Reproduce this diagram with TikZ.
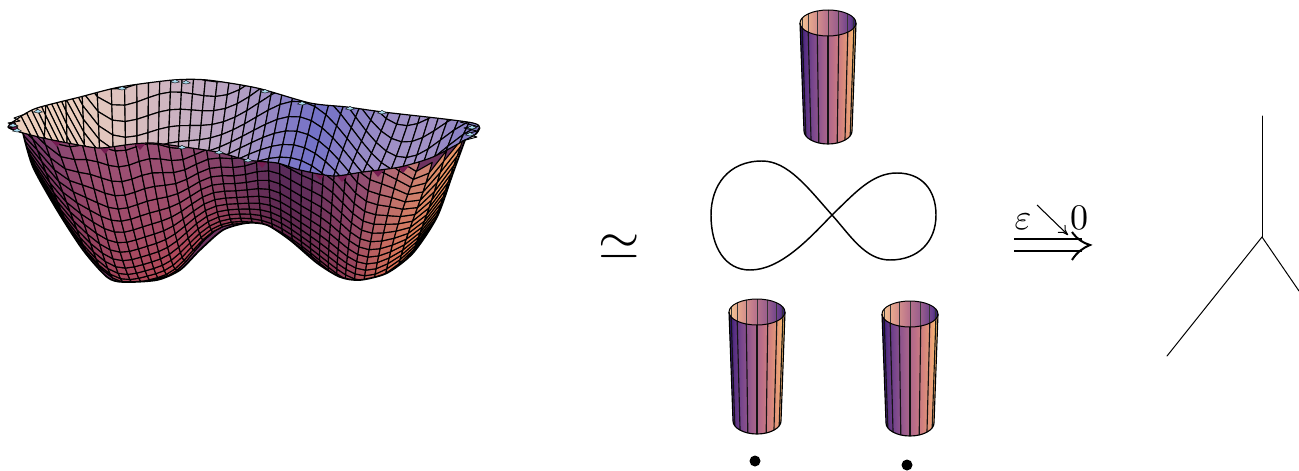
\documentclass[tikz,border=0pt]{standalone}
\usetikzlibrary{arrows.meta}
\definecolor{fa}{RGB}{35,18,105}\definecolor{fb}{RGB}{85,45,130}\definecolor{fc}{RGB}{120,70,140}
\definecolor{fd}{RGB}{160,95,140}\definecolor{fe}{RGB}{190,112,135}\definecolor{ff}{RGB}{212,132,125}
\definecolor{fg}{RGB}{235,160,120}\definecolor{fh}{RGB}{250,190,110}\definecolor{fi}{RGB}{205,170,120}
\definecolor{ia}{RGB}{245,200,150}\definecolor{ib}{RGB}{225,160,140}\definecolor{ic}{RGB}{190,120,140}
\definecolor{id}{RGB}{150,92,140}\definecolor{ie}{RGB}{100,60,140}\definecolor{ig}{RGB}{30,20,90}
\definecolor{rimcyan}{RGB}{165,215,235}\definecolor{rimred}{RGB}{115,28,80}\definecolor{wallgap}{RGB}{110,50,95}
\pgfdeclarehorizontalshading{cylfront}{100bp}{color(0bp)=(fa);color(25bp)=(fa);color(29bp)=(fb);color(36bp)=(fc);color(46bp)=(fd);color(55bp)=(fe);color(62bp)=(ff);color(69bp)=(fg);color(73bp)=(fh);color(75bp)=(fi);color(100bp)=(fi)}
\pgfdeclarehorizontalshading{cylback}{100bp}{color(0bp)=(ia);color(25bp)=(ia);color(35bp)=(ib);color(47bp)=(ic);color(60bp)=(id);color(70bp)=(ie);color(75bp)=(ig);color(100bp)=(ig)}
\newcommand\halfdown[4]{({#1-#3},#2) .. controls ({#1-#3},{#2+.55*#4}) and ({#1-.55*#3},{#2+#4}) .. (#1,{#2+#4}) .. controls ({#1+.55*#3},{#2+#4}) and ({#1+#3},{#2+.55*#4}) .. ({#1+#3},#2)}
\newcommand\halfup[4]{({#1+#3},#2) .. controls ({#1+#3},{#2-.55*#4}) and ({#1+.55*#3},{#2-#4}) .. (#1,{#2-#4}) .. controls ({#1-.55*#3},{#2-#4}) and ({#1-#3},{#2-.55*#4}) .. ({#1-#3},#2)}
\newcommand\cylpic[6]{%
  \shade[shading=cylback] \halfup{#1}{#2}{#3}{13} -- \halfdown{#1}{#2}{#3}{13} -- cycle;
  \foreach \k in {1,...,7}{
    \pgfmathsetmacro\xa{#1-#3*cos(\k*22.5)}
    \pgfmathsetmacro\dy{13*sin(\k*22.5)}
    \draw[line width=.75pt,black!80] (\xa,{#2-\dy}) -- (\xa,{#2+\dy});
  }
  \shade[shading=cylfront] \halfdown{#1}{#2}{#3}{13} -- ({#4+#6},#5) .. controls ({#4+#6},{#5+7}) and ({#4+.55*#6},{#5+13}) .. (#4,{#5+13}) .. controls ({#4-.55*#6},{#5+13}) and ({#4-#6},{#5+7}) .. ({#4-#6},#5) -- cycle;
  \foreach \k in {1,...,7}{
    \pgfmathsetmacro\xa{#1-#3*cos(\k*22.5)}
    \pgfmathsetmacro\ya{#2+13*sin(\k*22.5)}
    \pgfmathsetmacro\xb{#4-#6*cos(\k*22.5)}
    \pgfmathsetmacro\yb{#5+13*sin(\k*22.5)}
    \draw[line width=.85pt,black!92] (\xa,\ya) -- (\xb,\yb);
  }
  \draw[line width=.75pt] \halfup{#1}{#2}{#3}{13} -- \halfdown{#1}{#2}{#3}{13} -- cycle;
  \draw[line width=.85pt] ({#1-#3},#2) -- ({#4-#6},#5) .. controls ({#4-#6},{#5+7}) and ({#4-.55*#6},{#5+13}) .. (#4,{#5+13}) .. controls ({#4+.55*#6},{#5+13}) and ({#4+#6},{#5+7}) .. ({#4+#6},#5) -- ({#1+#3},#2);
}
\newcommand\rimtri[3]{\fill[#3,draw=black,line width=.3pt] ({#1-4.5},{#2+1}) -- (#1,{#2-1.6}) -- ({#1+4.5},{#2+1}) -- (#1,{#2+2}) -- cycle;}
\newcommand\rimdrop[2]{\fill[rimred] ({#1-6},{#2-1}) -- ({#1+6},{#2-1}) -- (#1,{#2+6}) -- cycle;}
\def\frontrim{(23,133) (43,138) (73,144) (100,148) (133,144) (153,143) (177,146) (217,152) (247,160) (277,163) (300,170) (333,176) (363,172) (400,167) (433,157) (465,140)}
\def\lowerrim{(465,140) (453,173) (437,217) (413,253) (387,273) (360,280) (340,277) (317,263) (290,240) (267,225) (247,223) (223,230) (200,250) (180,270) (157,280) (123,282) (107,277) (83,250) (57,210) (33,167) (23,133)}
\def\backrim{(23,133) (8,127) (20,117) (37,108) (80,97) (120,87) (173,80) (207,80) (257,88) (310,103) (347,107) (383,112) (473,123) (477,133) (465,140)}
\begin{document}
\begin{tikzpicture}[x=0.75pt,y=-0.75pt,lineedge/.style={line width=.75pt,line cap=round},meshquad/.style={draw=black,line width=.85pt,line join=round}]
\useasboundingbox (0,0) rectangle (1299,471);
\foreach \j in {0,...,38}{
  \pgfmathsetmacro\ja{abs(\j-19)}
  \pgfmathsetmacro\dd{7*\ja+.286*\ja*\ja}
  \pgfmathsetmacro\va{(-1+sqrt(1+.6444*\dd))*.10345}
  \pgfmathsetmacro\vv{\j<19?-\va:\va}
  \pgfmathsetmacro\zv{145*\vv*\vv}
  \pgfmathsetmacro\bv{\j<19?12*\vv:35*\vv}
  \pgfmathsetmacro\lf{max(0,1-\va/1.1)}
  \expandafter\xdef\csname VV\j\endcsname{\vv}
  \expandafter\xdef\csname ZV\j\endcsname{\zv}
  \expandafter\xdef\csname BV\j\endcsname{\bv}
  \expandafter\xdef\csname LF\j\endcsname{\lf}
}
\foreach \i in {0,...,44}{
  \pgfmathsetmacro\uu{-1.76+.08*\i}
  \pgfmathsetmacro\zu{60*(\uu*\uu-1)^2}
  \pgfmathsetmacro\fx{240*\uu*(\uu*\uu-1)}
  \pgfmathsetmacro\qq{\fx/(abs(\fx)+80)}
  \pgfmathsetmacro\dk{1-.42*exp(-(\uu-.3)^2/.2)}
  \pgfmathsetmacro\amt{\qq>0?\qq*\qq:0}
  \pgfmathsetmacro\pmt{\qq<0?\qq*\qq*\qq*\qq:0}
  \pgfmathsetmacro\amo{min(1,max(0,(\uu-.85)/.55))}
  \pgfmathsetmacro\ami{\uu>.85?0:\amt}
  \pgfmathsetmacro\rc{(.60+.34*\amo-.36*\pmt)*\dk}
  \pgfmathsetmacro\gc{(.33+.30*\amo-.22*\pmt)*\dk}
  \pgfmathsetmacro\bc{(.50-.08*\amo-.10*\pmt)*(.6+.4*\dk)}
  \pgfmathsetmacro\tb{min(1,max(0,(\uu+1.5)/1.4))}
  \pgfmathsetmacro\bmt{min(.85,.75*exp(-(\uu-.2)^2/.09)+(\uu>1?.9*\amt:0)+(\uu<.2?0:.12))}
  \pgfmathsetmacro\rb{(.93-.27*\tb)*(1-\bmt)+.42*\bmt}
  \pgfmathsetmacro\gb{(.81-.22*\tb)*(1-\bmt)+.42*\bmt}
  \pgfmathsetmacro\bb{(.74+.03*\tb)*(1-\bmt)+.78*\bmt}
  \pgfmathsetmacro\dlt{3+8*exp(-(\uu-1.3)^2/.15)+18*exp(-(\uu+.55)^2/.06)}
  \expandafter\xdef\csname ZU\i\endcsname{\zu}
  \expandafter\xdef\csname AM\i\endcsname{\ami}
  \expandafter\xdef\csname RC\i\endcsname{\rc}
  \expandafter\xdef\csname GC\i\endcsname{\gc}
  \expandafter\xdef\csname BC\i\endcsname{\bc}
  \expandafter\xdef\csname RB\i\endcsname{\rb}
  \expandafter\xdef\csname GB\i\endcsname{\gb}
  \expandafter\xdef\csname BB\i\endcsname{\bb}
  \foreach \j in {0,...,38}{
    \pgfmathsetmacro\vv{\csname VV\j\endcsname}
    \pgfmathsetmacro\zz{\zu+\csname ZV\j\endcsname}
    \pgfmathsetmacro\pp{1+.115*\zz/60}
    \pgfmathsetmacro\sx{245+(115*\uu+\csname BV\j\endcsname)*\pp}
    \pgfmathsetmacro\rip{\vv<0?\vv*\vv*(24*cos(1.565*(\sx-90))+4*cos(6*(\sx-90))):20*\vv*\vv*cos(2.4*(\sx-160))}
    \pgfmathsetmacro\sy{279-\zz-30*\vv+.1*\uu*\zz+\dlt*\csname LF\j\endcsname-\rip}
    \coordinate (p\i-\j) at (\sx,\sy);
  }
}
% back wall
\begin{scope}
  \clip plot[smooth,tension=.45] coordinates {\lowerrim} -- plot[smooth,tension=.45] coordinates {\backrim} -- cycle;
  \fill[rimred] (0,60) rectangle (490,300);
  \foreach \j [evaluate=\j as \jn using int(\j+1)] in {37,36,...,19}{
    \foreach \i [evaluate=\i as \in using int(\i+1)] in {0,...,43}{
      \dimen0=\csname ZU\i\endcsname pt\relax
      \advance\dimen0 by \csname ZV\j\endcsname pt\relax
      \ifdim\dimen0<205pt
        \definecolor{qc}{rgb}{\csname RB\i\endcsname,\csname GB\i\endcsname,\csname BB\i\endcsname}
        \filldraw[meshquad,fill=qc] (p\i-\j) -- (p\in-\j) -- (p\in-\jn) -- (p\i-\jn) -- cycle;
      \fi
    }
  }
\end{scope}
% front wall
\begin{scope}
  \clip plot[smooth,tension=.45] coordinates {\lowerrim} -- plot[smooth,tension=.45] coordinates {\backrim} -- cycle;
  \clip plot[smooth,tension=.45] coordinates {\frontrim} -- (490,300) -- (0,300) -- cycle;
  \fill[wallgap] (0,60) rectangle (490,300);
  \foreach \j [evaluate=\j as \jn using int(\j+1)] in {23,22,...,0}{
    \pgfmathsetmacro\ww{min(1,\j/19)}
    \foreach \i [evaluate=\i as \in using int(\i+1)] in {0,...,43}{
      \dimen0=\csname ZU\i\endcsname pt\relax
      \advance\dimen0 by \csname ZV\j\endcsname pt\relax
      \ifdim\dimen0<205pt
        \pgfmathsetmacro\wm{\csname AM\i\endcsname*\ww*\ww*\ww}
        \pgfmathsetmacro\rq{min(1,\csname RC\i\endcsname+.08*\ww*\ww+.32*\wm)}
        \pgfmathsetmacro\gq{\csname GC\i\endcsname*(.8+.2*(1-\ww))+.08*\wm}
        \pgfmathsetmacro\bq{\csname BC\i\endcsname*(.66+.34*(1-\ww))-.06*\wm}
        \definecolor{qc}{rgb}{\rq,\gq,\bq}
        \filldraw[meshquad,fill=qc] (p\i-\jn) -- (p\in-\jn) -- (p\in-\j) -- (p\i-\j) -- cycle;
      \fi
    }
  }
  \rimdrop{57}{141}\rimdrop{105}{148}\rimdrop{140}{144}\rimdrop{262}{162}\rimdrop{320}{174}\rimdrop{342}{176}\rimdrop{378}{171}\rimdrop{403}{167}
\end{scope}
% rim and outline
\draw[line width=.9pt] plot[smooth,tension=.45] coordinates {\frontrim};
\draw[line width=.9pt] plot[smooth,tension=.45] coordinates {\backrim};
\draw[line width=1.3pt] plot[smooth,tension=.45] coordinates {\lowerrim};
\draw[line width=.7pt,line join=round] (23,133) -- (9,128) -- (18,126) -- (8,123) -- (20,121) -- (14,118) -- (28,113);
\draw[line width=.7pt,line join=round] (462,141) -- (477,137) -- (466,134) -- (477,131) -- (464,128) -- (476,126) -- (460,122);
\rimtri{13}{125}{rimcyan}\rimtri{17}{130}{rimcyan}\rimtri{38}{111}{rimcyan}\rimtri{122}{88}{rimcyan}
\rimtri{175}{81}{rimcyan}\rimtri{186}{82}{rimcyan}\rimtri{265}{91}{rimcyan}\rimtri{302}{103}{rimcyan}
\rimtri{350}{108}{rimcyan}\rimtri{382}{112}{rimcyan}\rimtri{472}{127}{rimcyan}\rimtri{470}{134}{rimcyan}
\rimtri{182}{147}{rimcyan}\rimtri{219}{152}{rimcyan}\rimtri{248}{160}{rimcyan}
% simeq
\node (simeqsign) at (619.5,247) [scale=4,inner sep=0pt] {$\simeq$};
% cylinders
\cylpic{828}{23}{28}{828}{131}{24}
\cylpic{757}{312}{28}{757}{421}{24}
\cylpic{910}{314}{28}{910}{423}{24}
% figure eight
\draw[line width=1.1pt] (832,215) .. controls (808,188) and (788,161) .. (762,161)
  .. controls (728,161) and (711,186) .. (711,215)
  .. controls (711,247) and (725,270) .. (750,270)
  .. controls (780,270) and (808,240) .. (832,215)
  .. controls (855,193) and (872,173) .. (897,173)
  .. controls (922,173) and (936,190) .. (936,215)
  .. controls (936,242) and (918,260) .. (890,260)
  .. controls (865,260) and (850,235) .. (832,215) -- cycle;
% dots
\fill (755,461) circle[radius=5.5];
\fill (907,465) circle[radius=5.5];
% limit arrow
\node (epsl) at (1023,222) [scale=2.7,inner sep=0pt] {$\varepsilon$};
\node (zerol) at (1079,218) [scale=2.7,inner sep=0pt] {$0$};
\coordinate (arrfrom) at (1037,205);
\coordinate (arrto) at (1068,235);
\draw[line width=.8pt,-{To[length=7pt,width=8pt]}] (arrfrom) -- (arrto);
\coordinate (dbla) at (1014,239); \coordinate (dblb) at (1082,239);
\coordinate (dblc) at (1014,251); \coordinate (dbld) at (1082,251);
\draw[line width=1.6pt] (dbla) -- (dblb);
\draw[line width=1.6pt] (dblc) -- (dbld);
\draw[line width=1.5pt] (1072,232) .. controls (1077,239) and (1083,243) .. (1090,245) .. controls (1083,248) and (1077,252) .. (1072,260);
% tree
\coordinate (treec) at (1262,237);
\coordinate (treet) at (1262,116);
\coordinate (treel) at (1167,356);
\coordinate (treer) at (1299,291);
\draw[lineedge] (treec) -- (treet);
\draw[lineedge] (treec) -- (treel);
\draw[lineedge] (treec) -- (treer);
\end{tikzpicture}
\end{document}
